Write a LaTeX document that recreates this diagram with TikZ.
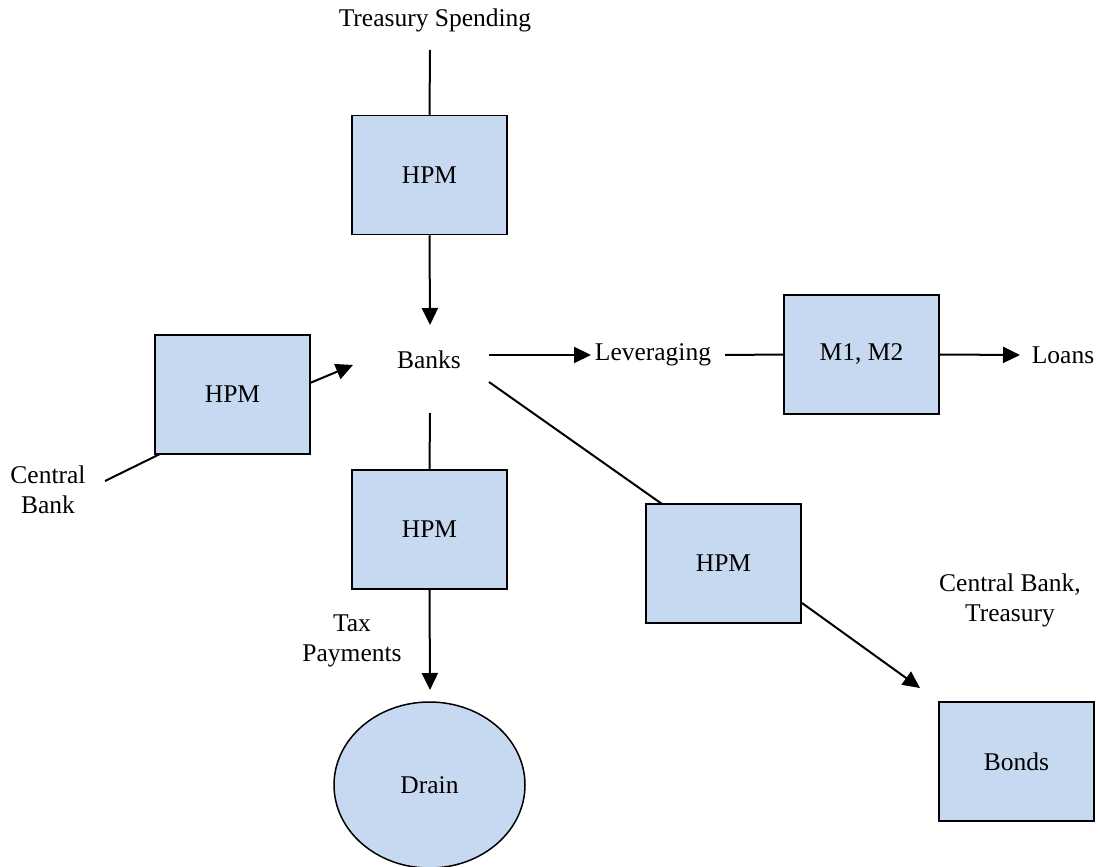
\documentclass[tikz,border=0pt]{standalone}
\usepackage{fontspec}
\setmainfont{Liberation Serif}
\usetikzlibrary{arrows.meta,shapes.geometric}
\definecolor{boxfill}{HTML}{C6D9F1}
\tikzset{
  hpmbox/.style={draw=black, line width=1.5pt, fill=boxfill, minimum width=155pt, minimum height=119pt, inner sep=0pt, font=\fontsize{25.5}{30}\selectfont},
  lbl/.style={inner sep=0pt, align=center, font=\fontsize{25.5}{30}\selectfont},
  conn/.style={line width=2pt},
  arr/.style={line width=2pt, -{Triangle[length=17pt,width=16pt]}}
}
\begin{document}
\begin{tikzpicture}[x=1pt,y=-1pt]
\useasboundingbox (0,0) rectangle (1100,867);
% nodes
\node[lbl] (ts) at (435,20) {Treasury Spending};
\node[hpmbox] (hpm1) at (429.5,175) {HPM};
\node[lbl] (banks) at (429,360) {Banks};
\node[hpmbox] (hpmL) at (232.5,394.5) {HPM};
\node[lbl] (cb) at (48,490) {Central\\Bank};
\node[lbl] (lev) at (653,355) {Leveraging};
\node[hpmbox] (m) at (861.5,354.5) {M1, M2};
\node[lbl] (loans) at (1063,355) {Loans};
\node[hpmbox] (hpm3) at (429.5,529.5) {HPM};
\node[lbl] (tax) at (352,641) {Tax\\Payments};
\node[draw=black, line width=1.5pt, fill=boxfill, ellipse, minimum width=191pt, minimum height=166pt, inner sep=0pt, font=\fontsize{25.5}{30}\selectfont] (drain) at (429.5,785) {Drain};
\node[hpmbox] (hpm4) at (723.5,563.5) {HPM};
\node[lbl] (cbt) at (1010,600) {Central Bank,\\Treasury};
\node[hpmbox] (bonds) at (1016.5,761.5) {Bonds};
% coordinates
\coordinate (tsend) at (430,50);
\coordinate (bankstop) at (430,325);
\coordinate (cbend) at (105,481);
\coordinate (hpmLcorner) at (160,454);
\coordinate (hpmLout) at (310,383);
\coordinate (bankleft) at (353,365);
\coordinate (bankright) at (489,355);
\coordinate (levin) at (591,355);
\coordinate (levout) at (725,355);
\coordinate (loansin) at (1020,355);
\coordinate (banksbot) at (430,413);
\coordinate (drainin) at (430,690);
\coordinate (banksdiag) at (489,382);
\coordinate (hpm4top) at (662,504);
\coordinate (hpm4out) at (802,603);
\coordinate (bondsin) at (920,688);
% connectors
\draw[conn] (tsend) -- (hpm1.north);
\draw[arr] (hpm1.south) -- (bankstop);
\draw[conn] (cbend) -- (hpmLcorner);
\draw[arr] (hpmLout) -- (bankleft);
\draw[arr] (bankright) -- (levin);
\draw[conn] (levout) -- (m.west);
\draw[arr] (m.east) -- (loansin);
\draw[conn] (banksbot) -- (hpm3.north);
\draw[arr] (hpm3.south) -- (drainin);
\draw[conn] (banksdiag) -- (hpm4top);
\draw[arr] (hpm4out) -- (bondsin);
\end{tikzpicture}
\end{document}
